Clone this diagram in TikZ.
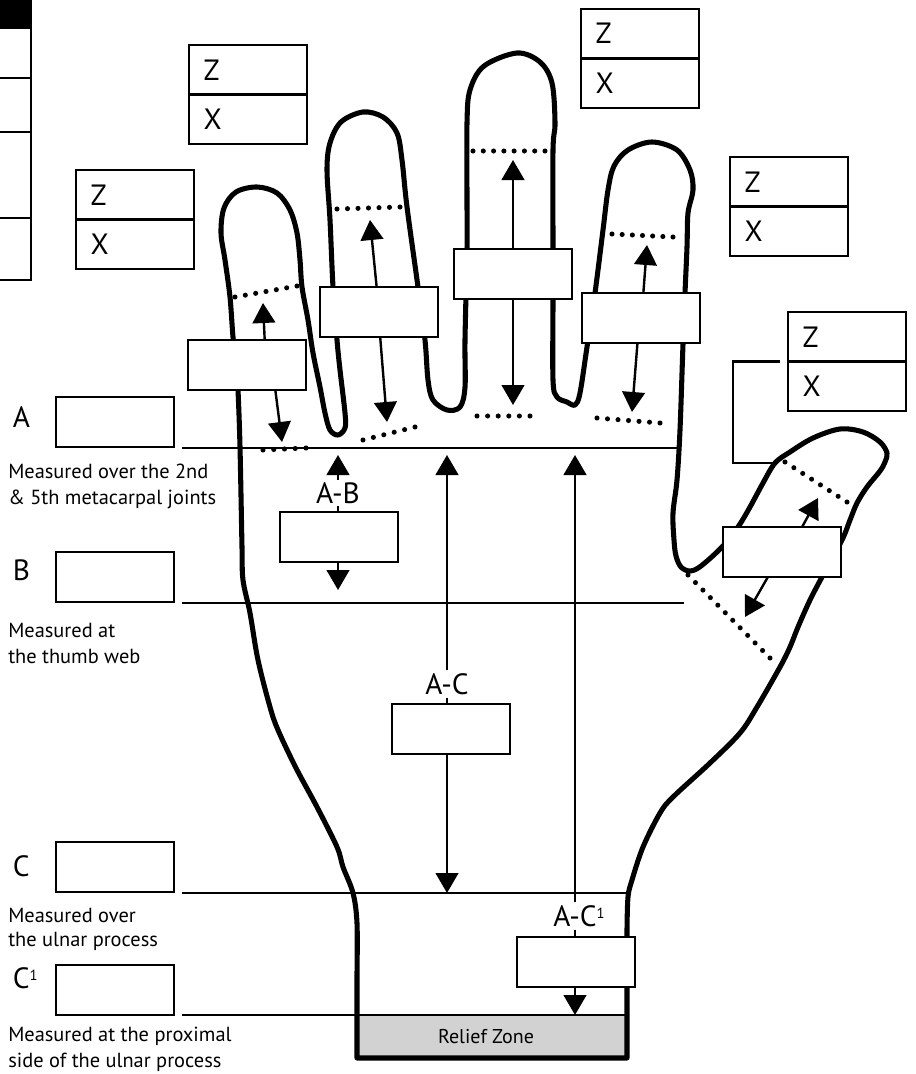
\documentclass[tikz,border=0pt]{standalone}
\usepackage{fontspec}
\setmainfont{PT Sans}
\usetikzlibrary{arrows.meta,calc}
\newcommand\dotrow[3]{\foreach \k in {0,...,#3}{\fill ($(#1)!{\k/#3}!(#2)$) circle[radius=1.9pt];}}
\newcommand\supone{\raisebox{5.8pt}{\fontsize{11}{11}\selectfont 1}}
\begin{document}
\begin{tikzpicture}[x=0.75pt,y=-0.75pt,
  hand/.style={line width=3.8pt,line join=round},
  mline/.style={line width=1.5pt},
  mbox/.style={draw,line width=1.6pt,fill=white,minimum width=88.5pt,minimum height=37.5pt,inner sep=0pt,outer sep=0pt,anchor=north west},
  zx/.style={draw,line width=1.6pt,fill=white,minimum width=88.5pt,minimum height=37.1pt,inner xsep=11pt,inner ysep=0pt,outer sep=0pt,text width=66.5pt,align=left,font=\fontsize{22}{24}\selectfont},
  big/.style={font=\fontsize{22}{24}\selectfont,inner sep=2pt},
  note/.style={font=\fontsize{15.3}{18}\selectfont,anchor=base west,inner sep=0pt},
  arr/.style={line width=1.8pt,-{Triangle[width=17pt,length=15pt]}}
]
\useasboundingbox (0,0) rectangle (915,1074);

% partial table top left
\fill (0,0) rectangle (32,28);
\draw[line width=1.6pt] (0,28) -- (31,28) -- (31,280) -- (0,280);
\draw[line width=1.6pt] (0,78) -- (31,78) (0,132) -- (31,132) (0,218) -- (31,218);

% relief zone
\fill[gray!35] (357,1016) rectangle (627,1058);
\node[font=\fontsize{15}{17}\selectfont] (relief) at (486,1037) {Relief Zone};

% hand outline
\draw[hand] (357,1058) -- plot[smooth,tension=0.55] coordinates {
(357,973) (357,923) (353,893) (343,867) (337,847) (317,807) (296,768) (278,730) (270,707) (258,660) (250,613) (243,580) (242,547) (240,447) (238,390) (236,360) (233,337) (230,297) (225,260) (221,233) (224,208) (236,192) (257,187) (277,193) (290,210) (297,233) (300,260) (302,287) (308,320) (313,353) (320,387) (325,413) (330,430) (338,435) (345,428) (345,413) (340,370) (337,340) (333,287) (330,220) (327,170) (330,143) (341,122) (363,112) (383,117) (397,133) (402,160) (407,207) (418,287) (425,340) (428,380) (433,400) (447,410) (460,407) (465,387) (465,340) (467,250) (467,200) (467,123) (470,90) (484,66) (517,53) (540,62) (552,83) (555,123) (553,150) (553,247) (553,300) (553,380) (557,397) (567,402) (575,405) (580,393) (587,347) (595,293) (603,230) (608,190) (614,166) (628,150) (652,142) (677,150) (690,170) (693,190) (688,213) (687,247) (685,293) (683,344) (680,430) (677,480) (673,513) (674,540) (676,556) (681,567) (690,571) (701,566) (722,547) (738,527) (750,507) (763,483) (775,463) (790,452) (813,438) (840,429) (863,432) (880,442) (887,453) (885,462) (880,471) (867,487) (857,503) (850,520) (842,540) (822,577) (810,600) (798,627) (790,647) (780,667) (757,707) (740,733) (710,763) (673,797) (660,813) (643,847) (632,880) (628,897) (627,930)
} -- (627,1058) -- cycle;

% measurement lines
\coordinate (LAl) at (182,448); \coordinate (LAr) at (680,448);
\coordinate (LBl) at (182,603); \coordinate (LBr) at (684,603);
\coordinate (LCl) at (182,893); \coordinate (LCr) at (627,893);
\coordinate (LDl) at (182,1015); \coordinate (LDr) at (627,1015);
\draw[mline] (LAl) -- (LAr);
\draw[mline] (LBl) -- (LBr);
\draw[mline] (LCl) -- (LCr);
\draw[mline] (LDl) -- (LDr);

% dotted joint lines
\dotrow{235,297}{297,286}{6}
\dotrow{263,450}{306,448}{4}
\dotrow{337,209}{400,207}{6}
\dotrow{363,440}{415,427}{5}
\dotrow{473,151}{545,151}{7}
\dotrow{477,416}{530,416}{5}
\dotrow{612,234}{673,237}{6}
\dotrow{597,418}{660,423}{6}
\dotrow{785,462}{847,502}{7}
\dotrow{688,575}{770,658}{11}

% finger measurement boxes
\node[mbox] (fP) at (188,340) {};
\node[mbox] (fR) at (320,287) {};
\node[mbox] (fM) at (454,249) {};
\node[mbox] (fI) at (582,293) {};
\node[mbox] (fT) at (723,527) {};

% finger arrows
\coordinate (tPu) at (263,303); \coordinate (tPd) at (282,442);
\coordinate (tRu) at (370,220); \coordinate (tRd) at (387,422);
\coordinate (tMu) at (513,160); \coordinate (tMd) at (513,405);
\coordinate (tIu) at (647,245); \coordinate (tId) at (632,412);
\coordinate (tTu) at (818,498); \coordinate (tTd) at (745,617);
\draw[arr] ($(fP.north west)!0.65!(fP.north east)$) -- (tPu);
\draw[arr] ($(fP.south west)!0.74!(fP.south east)$) -- (tPd);
\draw[arr] ($(fR.north west)!0.48!(fR.north east)$) -- (tRu);
\draw[arr] ($(fR.south west)!0.51!(fR.south east)$) -- (tRd);
\draw[arr] (fM.north) -- (tMu);
\draw[arr] (fM.south) -- (tMd);
\draw[arr] ($(fI.north west)!0.52!(fI.north east)$) -- (tIu);
\draw[arr] ($(fI.south west)!0.47!(fI.south east)$) -- (tId);
\draw[arr] ($(fT.north west)!0.67!(fT.north east)$) -- (tTu);
\draw[arr] ($(fT.south west)!0.38!(fT.south east)$) -- (tTd);

% Z / X boxes
\node[zx,anchor=north west] (z1) at (76,170) {Z};
\node[zx,anchor=north] (x1) at (z1.south) {X};
\node[zx,anchor=north west] (z2) at (189,45) {Z};
\node[zx,anchor=north] (x2) at (z2.south) {X};
\node[zx,anchor=north west] (z3) at (581,9) {Z};
\node[zx,anchor=north] (x3) at (z3.south) {X};
\node[zx,anchor=north west] (z4) at (730,157) {Z};
\node[zx,anchor=north] (x4) at (z4.south) {X};
\node[zx,anchor=north west] (z5) at (788,312) {Z};
\node[zx,anchor=north] (x5) at (z5.south) {X};
\coordinate (thumbC) at (775,463);
\draw[line width=1.6pt] ($(z5.south west)+(-8,0)$) -| (733,463) -- (thumbC);

% left labels and boxes
\node[mbox] (bA) at (56,397) {};
\node[mbox] (bB) at (56,552) {};
\node[mbox] (bC) at (56,842) {};
\node[mbox] (bD) at (56,965) {};
\node[big,anchor=west] (tA) at (10,417) {A};
\node[big,anchor=west] (tB) at (10,570) {B};
\node[big,anchor=west] (tC) at (10,866) {C};
\node[big,anchor=west] (tD) at (10,978) {C\supone};
\node[note] (nA1) at (8,478) {Measured over the 2nd};
\node[note] (nA2) at (8,504) {\& 5th metacarpal joints};
\node[note] (nB1) at (8,637) {Measured at};
\node[note] (nB2) at (8,663) {the thumb web};
\node[note] (nC1) at (8,922) {Measured over};
\node[note] (nC2) at (8,946) {the ulnar process};
\node[note] (nD1) at (8,1041) {Measured at the proximal};
\node[note] (nD2) at (8,1067) {side of the ulnar process};

% A-B
\node[mbox] (bAB) at (280,512) {};
\node[big] (lAB) at (338,493) {A-B};
\coordinate (abTop) at (338,455); \coordinate (abBot) at (338,590);
\draw[arr] (lAB.north) -- (abTop);
\draw[line width=1.8pt] (lAB.south) -- (lAB.south |- bAB.north);
\draw[arr] (lAB.south |- bAB.south) -- (abBot);

% A-C
\node[mbox] (bAC) at (392,704) {};
\node[big] (lAC) at (447,684) {A-C};
\coordinate (acTop) at (447,455); \coordinate (acBot) at (447,893);
\draw[arr] (lAC.north) -- (acTop);
\draw[line width=1.8pt] (lAC.south) -- (lAC.south |- bAC.north);
\draw[arr] (lAC.south |- bAC.south) -- (acBot);

% A-C1
\node[mbox] (bAD) at (517,937) {};
\node[big] (lAD) at (579,916) {A-C\supone};
\coordinate (adTop) at (575,455); \coordinate (adBot) at (575,1015);
\draw[arr] (lAD.north -| adTop) -- (adTop);
\draw[line width=1.8pt] (lAD.south -| adTop) -- (bAD.north -| adTop);
\draw[arr] (bAD.south -| adTop) -- (adBot);
\end{tikzpicture}
\end{document}
